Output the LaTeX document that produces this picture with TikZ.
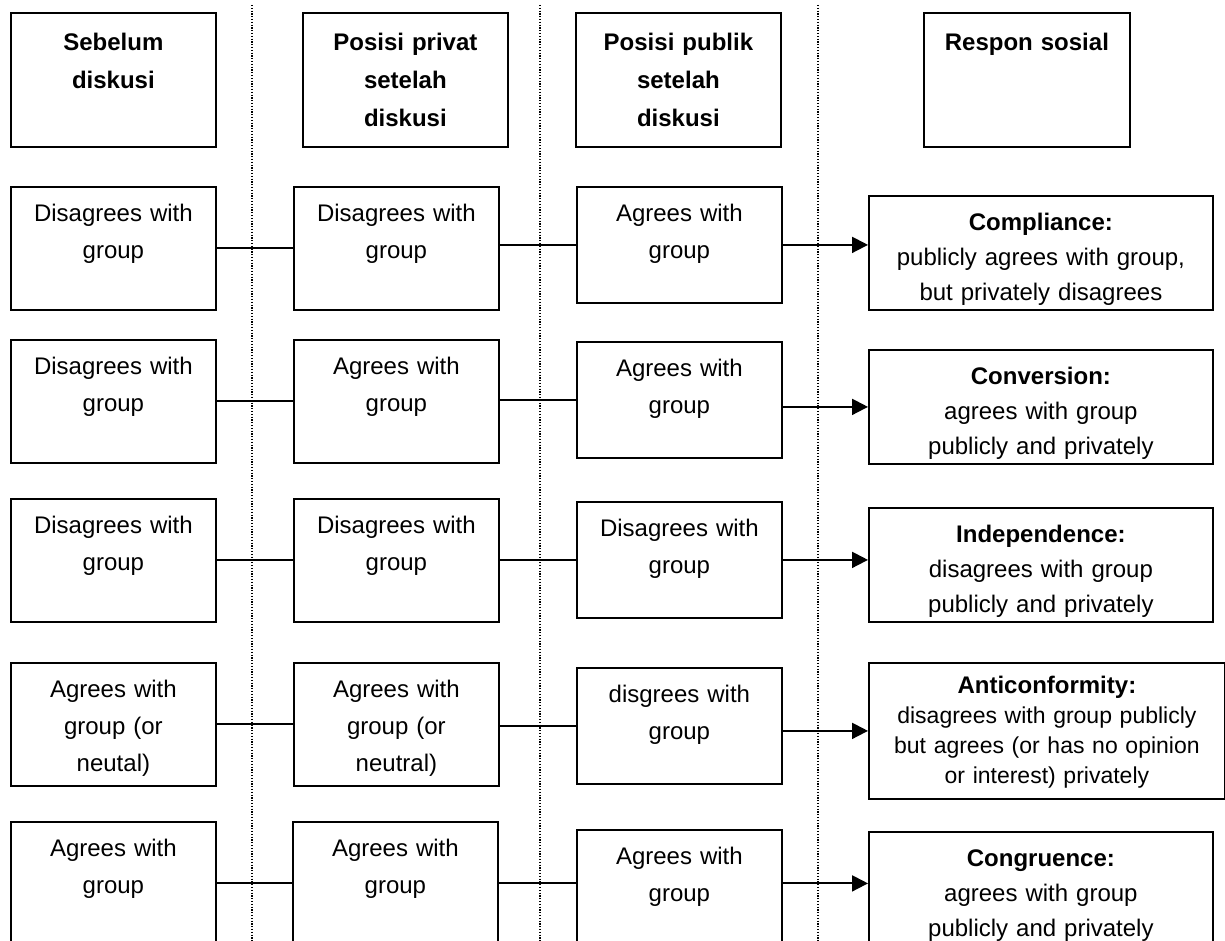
\documentclass[tikz,border=0pt]{standalone}
\usepackage{fontspec}
\setmainfont{Liberation Sans}
\usetikzlibrary{arrows.meta}

\begin{document}
\begin{tikzpicture}[
    x=0.5pt, y=-0.5pt,
    headbox/.style={rectangle, draw=black, line width=0.9pt, anchor=north west, text width=102.5pt, inner sep=0pt, align=center, text height=19pt, text depth=48pt, font=\fontsize{12}{19}\selectfont\bfseries},
    posbox/.style={rectangle, draw=black, line width=0.9pt, anchor=north west, text width=102.5pt, inner sep=0pt, align=center, text height=17.5pt, text depth=44pt, font=\fontsize{12}{18.5}\selectfont},
    pubbox/.style={posbox, text depth=40.5pt},
    respbox/.style={posbox, text width=172pt, text depth=39.5pt, font=\fontsize{12}{17.5}\selectfont},
    line/.style={draw=black, line width=1pt},
    arrowline/.style={line, -{Triangle[length=8pt, width=8pt]}},
    divider/.style={draw=black, line width=0.7pt, dash pattern=on 0.6pt off 0.8pt}
]
    \clip (0,0) rectangle (1225,941);

    % column heads
    \node[headbox] (pre) at (10,12) {Sebelum\\diskusi};
    \node[headbox] (priv) at (302,12) {Posisi privat\\setelah\\diskusi};
    \node[headbox] (pub) at (575,12) {Posisi publik\\setelah\\diskusi};
    \node[headbox, text width=103pt] (resp) at (923,12) {Respon sosial\hspace*{10pt}};

    % dotted separators
    \draw[divider] (252,5) -- (252,941);
    \draw[divider] (540,5) -- (540,941);
    \draw[divider] (818,5) -- (818,941);

    % compliance
    \node[posbox] (complPre) at (10,186) {Disagrees with\\group};
    \node[posbox] (complPriv) at (293,186) {Disagrees with\\group};
    \node[pubbox] (complPub) at (576,186) {Agrees with\\group};
    \node[respbox] (compl) at (868,195) {\textbf{Compliance:}\\publicly agrees with group,\\but privately disagrees};

    % conversion
    \node[posbox] (convPre) at (10,339) {Disagrees with\\group};
    \node[posbox] (convPriv) at (293,339) {Agrees with\\group};
    \node[pubbox] (convPub) at (576,341) {Agrees with\\group};
    \node[respbox] (conv) at (868,349) {\textbf{Conversion:}\\agrees with group\\publicly and privately};

    % independence
    \node[posbox] (indepPre) at (10,498) {Disagrees with\\group};
    \node[posbox] (indepPriv) at (293,498) {Disagrees with\\group};
    \node[pubbox] (indepPub) at (576,501) {Disagrees with\\group};
    \node[respbox] (indep) at (868,507) {\textbf{Independence:}\\disagrees with group\\publicly and privately};

    % anticonformity
    \node[posbox] (antiPre) at (10,662) {Agrees with\\group (or\\neutal)};
    \node[posbox] (antiPriv) at (293,662) {Agrees with\\group (or\\neutral)};
    \node[pubbox] (antiPub) at (576,667) {disgrees with\\group};
    \node[respbox, text width=178pt, text height=15.5pt, text depth=52.5pt, font=\fontsize{11.5}{15}\selectfont] (anti) at (868,662) {\textbf{\fontsize{12}{15}\selectfont Anticonformity:}\\disagrees with group publicly\\but agrees (or has no opinion\\or interest) privately};

    % congruence
    \node[posbox] (congPre) at (10,821) {Agrees with\\group};
    \node[posbox] (congPriv) at (292,821) {Agrees with\\group};
    \node[pubbox] (congPub) at (576,829) {Agrees with\\group};
    \node[respbox] (cong) at (868,831) {\textbf{Congruence:}\\agrees with group\\publicly and privately};

    % Connections
    \draw[line] (complPre.east) -- (complPre.east -| complPriv.west);
    \draw[line] (complPub.west -| complPriv.east) -- (complPub.west);
    \draw[arrowline] (complPub.east) -- (complPub.east -| compl.west);

    \draw[line] (convPre.east) -- (convPre.east -| convPriv.west);
    \draw[line] (convPub.west -| convPriv.east) -- (convPub.west);
    \draw[arrowline] (conv.west -| convPub.east) -- (conv.west);

    \draw[line] (indepPre.east) -- (indepPre.east -| indepPriv.west);
    \draw[line] (indepPriv.east) -- (indepPriv.east -| indepPub.west);
    \draw[arrowline] (indepPub.east) -- (indepPub.east -| indep.west);

    \draw[line] (antiPre.east) -- (antiPre.east -| antiPriv.west);
    \draw[line] (antiPub.west -| antiPriv.east) -- (antiPub.west);
    \draw[arrowline] (anti.west -| antiPub.east) -- (anti.west);

    \draw[line] (congPre.east) -- (congPre.east -| congPriv.west);
    \draw[line] (congPriv.east) -- (congPriv.east -| congPub.west);
    \draw[arrowline] (congPub.east |- congPriv.east) -- (cong.west |- congPriv.east);
\end{tikzpicture}
\end{document}
